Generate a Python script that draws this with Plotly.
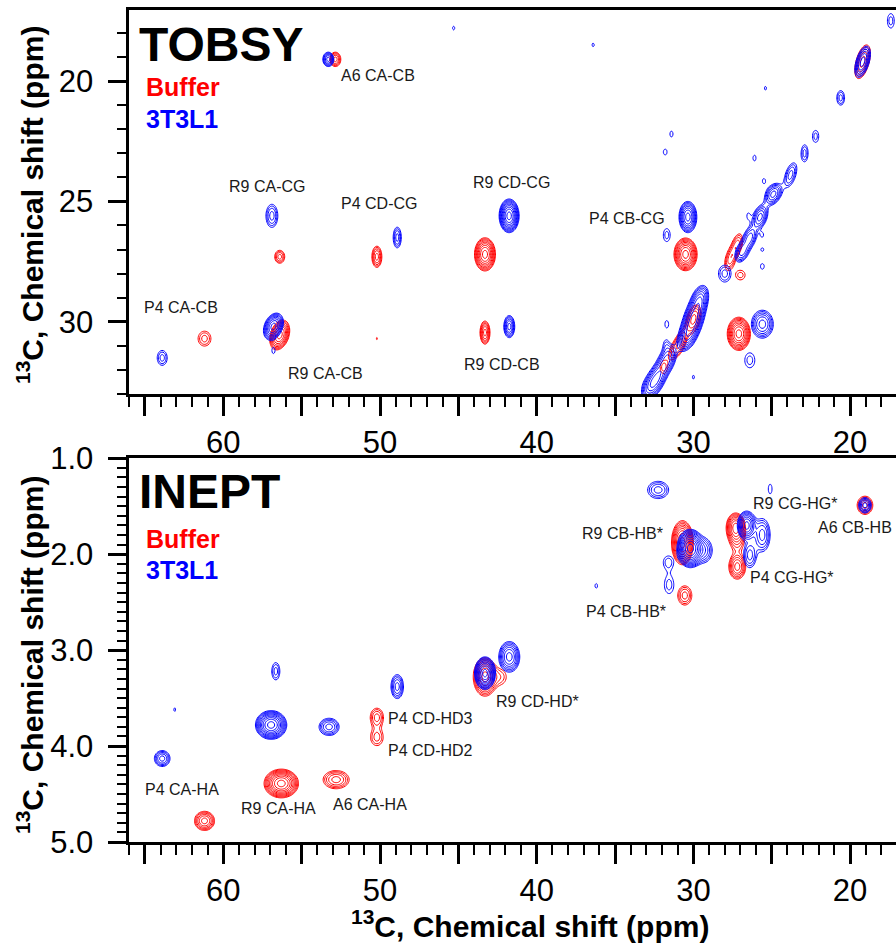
import numpy as np
import plotly.graph_objects as go

# ---------------- DATA (ppm) ----------------
# TOBSY, Buffer (red)
tob_buf_x = [52.85, 56.4, 56.4, 61.2, 50.2, 43.3, 43.3, 50.2, 30.5, 27.1, 19.2, 27.2, 27.65, 27.0, 30.0, 30.8, 31.2, 31.9]
tob_buf_y = [19.1, 27.3, 30.55, 30.7, 27.3, 27.2, 30.45, 30.7, 27.2, 30.5, 19.2, 26.8, 27.4, 28.06, 29.9, 30.8, 31.2, 31.9]
tob_buf_wx = [0.35, 0.32, 0.64, 0.41, 0.32, 0.67, 0.32, 0.05, 0.74, 0.74, 0.5, 0.35, 0.35, 0.3, 0.5, 0.35, 0.35, 0.22]
tob_buf_wy = [0.3, 0.27, 0.62, 0.31, 0.44, 0.69, 0.48, 0.05, 0.68, 0.69, 0.7, 0.45, 0.45, 0.2, 0.6, 0.4, 0.35, 0.25]
tob_buf_n = [5, 4, 8, 3, 5, 9, 6, 1, 9, 9, 5, 4, 4, 2, 5, 4, 3, 2]
tob_buf_rho = [0, 0, 0.3, 0, 0, 0, 0, 0, 0, 0, 0.5, 0.4, 0.4, 0, 0.4, 0.4, 0.4, 0]

# TOBSY, 3T3L1 (blue)
tob_cel_x = [53.3, 56.9, 56.8, 56.8, 63.9, 48.9, 41.76, 41.75, 30.35, 31.7, 25.6, 26.4,
             17.4, 19.2, 20.6, 22.2, 22.9, 23.8, 24.9, 25.75, 26.4, 26.9, 28.0,
             29.6, 30.0, 30.4, 31.7, 32.3, 32.75,
             45.3, 36.4, 31.4, 31.8, 26.1, 25.5, 25.4, 25.6, 25.6, 25.6, 26.5, 31.7, 31.75, 30.0]
tob_cel_y = [19.1, 25.6, 30.2, 31.2, 31.5, 26.5, 25.6, 30.2, 25.65, 26.4, 30.1, 31.6,
             17.5, 19.2, 20.7, 22.3, 23.0, 23.9, 24.7, 25.65, 26.5, 27.1, 28.0,
             29.1, 29.9, 30.6, 31.6, 32.3, 32.7,
             17.8, 18.5, 22.2, 22.95, 23.2, 24.15, 20.3, 26.4, 27.0, 27.7, 25.6, 30.1, 30.95, 32.3]
tob_cel_wx = [0.35, 0.38, 0.64, 0.1, 0.32, 0.26, 0.64, 0.35, 0.57, 0.22, 0.7, 0.32,
              0.22, 0.5, 0.25, 0.2, 0.22, 0.4, 0.55, 0.5, 0.45, 0.45, 0.4,
              0.55, 0.75, 0.6, 0.6, 0.6, 0.55,
              0.07, 0.07, 0.1, 0.12, 0.1, 0.1, 0.07, 0.07, 0.09, 0.12, 0.08, 0.12, 0.1, 0.07]
tob_cel_wy = [0.3, 0.48, 0.56, 0.12, 0.31, 0.43, 0.7, 0.46, 0.65, 0.27, 0.58, 0.31,
              0.3, 0.65, 0.3, 0.25, 0.35, 0.5, 0.45, 0.5, 0.45, 0.42, 0.35,
              0.6, 0.9, 0.6, 0.6, 0.6, 0.5,
              0.08, 0.08, 0.12, 0.12, 0.12, 0.1, 0.08, 0.07, 0.07, 0.12, 0.1, 0.15, 0.12, 0.08]
tob_cel_n = [6, 4, 8, 1, 3, 4, 10, 6, 8, 2, 6, 2,
             2, 6, 3, 2, 3, 4, 6, 6, 5, 5, 3,
             6, 8, 6, 6, 6, 5,
             1, 1, 1, 1, 1, 1, 1, 1, 1, 1, 1, 1, 1, 1]
tob_cel_rho = [0, 0, 0.3, 0, 0, 0, 0, 0, 0, 0, 0, 0,
               0, 0.5, 0, 0, 0, 0.5, 0.35, 0.35, 0.35, 0.35, 0,
               0.35, 0.45, 0.4, 0.4, 0.4, 0.35,
               0, 0, 0, 0, 0, 0, 0, 0, 0, 0, 0, 0, 0, 0]

# INEPT, Buffer (red)
inp_buf_x = [30.7, 30.55, 27.3, 27.2, 27.2, 19.05, 43.3, 42.3, 50.2, 50.2, 52.8, 56.3, 61.2]
inp_buf_y = [1.88, 2.43, 1.72, 1.86, 2.13, 1.49, 3.28, 3.28, 3.70, 3.91, 4.35, 4.39, 4.78]
inp_buf_wx = [0.7, 0.45, 0.6, 0.4, 0.54, 0.5, 0.75, 0.35, 0.42, 0.4, 0.83, 1.1, 0.64]
inp_buf_wy = [0.23, 0.1, 0.15, 0.1, 0.13, 0.095, 0.2, 0.07, 0.095, 0.085, 0.095, 0.15, 0.1]
inp_buf_n = [9, 4, 8, 3, 6, 5, 8, 2, 4, 3, 5, 10, 6]
inp_buf_rho = [0] * 13

# INEPT, 3T3L1 (blue)
inp_cel_x = [32.25, 25.1, 30.2, 29.3, 31.6, 31.55, 36.2, 26.6, 25.6, 26.4, 19.05, 43.3, 41.75, 48.9, 53.25, 56.65, 63.1, 56.95, 63.9]
inp_cel_y = [1.33, 1.32, 1.94, 1.96, 2.08, 2.32, 2.33, 1.70, 1.80, 2.01, 1.49, 3.24, 3.07, 3.38, 3.80, 3.22, 3.62, 3.78, 4.13]
inp_cel_wx = [0.67, 0.12, 0.85, 0.5, 0.3, 0.3, 0.08, 0.6, 0.5, 0.4, 0.4, 0.67, 0.67, 0.4, 0.64, 0.26, 0.06, 1.0, 0.5]
inp_cel_wy = [0.09, 0.05, 0.2, 0.12, 0.06, 0.09, 0.025, 0.15, 0.17, 0.13, 0.08, 0.17, 0.16, 0.125, 0.09, 0.09, 0.02, 0.15, 0.083]
inp_cel_n = [4, 1, 11, 4, 2, 2, 1, 8, 5, 4, 5, 10, 7, 5, 5, 3, 1, 10, 5]
inp_cel_rho = [0] * 19

# Peak labels
tob_lab_text = ["A6 CA-CB", "R9 CA-CG", "P4 CD-CG", "R9 CD-CG", "P4 CB-CG", "P4 CA-CB", "R9 CA-CB", "R9 CD-CB"]
tob_lab_x = [50.13, 57.21, 50.06, 41.58, 34.23, 62.70, 53.45, 42.21]
tob_lab_y = [19.75, 24.40, 25.07, 24.20, 25.73, 29.39, 32.13, 31.76]
inp_lab_text = ["R9 CB-HB*", "R9 CG-HG*", "A6 CB-HB", "P4 CG-HG*", "P4 CB-HB*", "R9 CD-HD*",
                "P4 CD-HD3", "P4 CD-HD2", "P4 CA-HA", "R9 CA-HA", "A6 CA-HA"]
inp_lab_x = [34.55, 23.52, 19.69, 23.71, 34.30, 39.92, 46.75, 46.75, 62.64, 56.51, 50.64]
inp_lab_y = [1.78, 1.47, 1.72, 2.24, 2.60, 3.54, 3.71, 4.05, 4.45, 4.65, 4.61]

x_major = [65, 60, 55, 50, 45, 40, 35, 30, 25, 20]
x_major_text = [" ", "60", " ", "50", " ", "40", " ", "30", " ", "20"]
tob_y_major = [20, 25, 30]
inp_y_major = [1.0, 2.0, 3.0, 4.0, 5.0]
inp_y_major_text = ["1.0", "2.0", "3.0", "4.0", "5.0"]

RED = "#FF0000"
BLUE = "#0000FF"
F = 1.3
NLEV = 13


def spectrum(xs, ys, px, py, wx, wy, n, rho):
    X, Y = np.meshgrid(xs, ys)
    Z = np.zeros_like(X)
    for xi, yi, wxi, wyi, ni, ri in zip(px, py, wx, wy, n, rho):
        A = F ** (ni - 0.5)
        k = np.sqrt(2 * np.log(A))
        sx, sy = wxi / k, wyi / k
        dx = (X - xi) / sx
        dy = (Y - yi) / sy
        q = (dx * dx - 2 * ri * dx * dy + dy * dy) / (1 - ri * ri)
        Z += A * np.exp(-0.5 * q)
    return np.log(Z + 1e-3).astype(np.float32)


xs = np.round(np.arange(14.5, 66.6, 0.07), 3)
ys_t = np.round(np.arange(16.8, 33.3, 0.06), 3)
ys_b = np.round(np.arange(0.9, 5.1, 0.012), 4)

fig = go.Figure()


def add(z, ys, color, xa, ya):
    fig.add_trace(go.Contour(
        x=xs, y=ys, z=z, xaxis=xa, yaxis=ya,
        contours=dict(start=0, end=np.log(F) * NLEV, size=np.log(F), coloring="none"),
        line=dict(color=color, width=1, smoothing=1),
        showscale=False, hoverinfo="skip"))


add(spectrum(xs, ys_t, tob_buf_x, tob_buf_y, tob_buf_wx, tob_buf_wy, tob_buf_n, tob_buf_rho), ys_t, RED, "x", "y")
add(spectrum(xs, ys_t, tob_cel_x, tob_cel_y, tob_cel_wx, tob_cel_wy, tob_cel_n, tob_cel_rho), ys_t, BLUE, "x", "y")
add(spectrum(xs, ys_b, inp_buf_x, inp_buf_y, inp_buf_wx, inp_buf_wy, inp_buf_n, inp_buf_rho), ys_b, RED, "x2", "y2")
add(spectrum(xs, ys_b, inp_cel_x, inp_cel_y, inp_cel_wx, inp_cel_wy, inp_cel_n, inp_cel_rho), ys_b, BLUE, "x2", "y2")

W, H = 896, 943
FONT = "Liberation Sans, Arial, sans-serif"

x_minor = [v for v in range(15, 67) if v % 5 != 0]
ax_common = dict(showline=True, linewidth=2.5, linecolor="black", ticks="outside", automargin=False,
                 tickwidth=2.5, tickcolor="black", ticklen=19, showgrid=False, zeroline=False,
                 tickfont=dict(size=31, color="black", family=FONT))

xa = dict(ax_common, tickmode="array", tickvals=x_major, ticktext=x_major_text, mirror=True,
          minor=dict(tickmode="array", tickvals=x_minor, ticks="outside", ticklen=10, tickwidth=2, tickcolor="black", showgrid=False),
          range=[66.0, 17.07], domain=[129.3 / W, 1.0])

fig.update_layout(
    width=W, height=H, margin=dict(l=0, r=0, t=0, b=0, autoexpand=False),
    paper_bgcolor="white", plot_bgcolor="white", showlegend=False,
    font=dict(family=FONT, color="black"),
    xaxis=dict(xa, anchor="y"),
    yaxis=dict(ax_common, anchor="x", range=[33.0, 17.05], domain=[1 - 394 / H, 1 - 10 / H],
               tickmode="array", tickvals=tob_y_major, ticktext=[str(v) for v in tob_y_major], ticklabelstandoff=8,
               minor=dict(tickmode="array", tickvals=[v for v in range(18, 34) if v % 5 != 0], ticks="outside",
                          ticklen=10, tickwidth=2, tickcolor="black", showgrid=False)),
    xaxis2=dict(xa, anchor="y2"),
    yaxis2=dict(ax_common, anchor="x2", range=[5.0, 1.0], domain=[1 - 842 / H, 1 - 458.3 / H],
                tickmode="array", tickvals=inp_y_major, ticktext=inp_y_major_text, ticklabelstandoff=8,
                minor=dict(tickmode="array", tickvals=[round(1 + 0.1 * i, 1) for i in range(41) if i % 10 != 0],
                           ticks="outside", ticklen=10, tickwidth=2, tickcolor="black", showgrid=False)),
)

ann = []
for t, x, y in zip(tob_lab_text, tob_lab_x, tob_lab_y):
    ann.append(dict(text=t, x=x, y=y, xref="x", yref="y", showarrow=False,
                    font=dict(size=16, color="#1a1a1a", family=FONT)))
for t, x, y in zip(inp_lab_text, inp_lab_x, inp_lab_y):
    ann.append(dict(text=t, x=x, y=y, xref="x2", yref="y2", showarrow=False,
                    font=dict(size=16, color="#1a1a1a", family=FONT)))


def panel_text(text, px, py, size, color):
    ann.append(dict(text=f"<b>{text}</b>", x=px / W, y=1 - py / H, xref="paper", yref="paper",
                    xanchor="left", yanchor="middle", showarrow=False,
                    font=dict(size=size, color=color, family=FONT)))


panel_text("TOBSY", 137, 44, 48, "black")
panel_text("Buffer", 144, 87, 25, RED)
panel_text("3T3L1", 144, 119, 25, BLUE)
panel_text("INEPT", 137, 491, 48, "black")
panel_text("Buffer", 144, 539, 25, RED)
panel_text("3T3L1", 144, 570, 25, BLUE)

title = "<b><sup>13</sup>C, Chemical shift (ppm)</b>"
ann.append(dict(text=title, x=530 / W, y=1 - 924 / H, xref="paper", yref="paper", showarrow=False,
                xanchor="center", yanchor="middle", font=dict(size=30, color="black", family=FONT)))
ann.append(dict(text=title, x=30 / W, y=1 - 205 / H, xref="paper", yref="paper", showarrow=False,
                textangle=-90, xanchor="center", yanchor="middle", font=dict(size=30, color="black", family=FONT)))
ann.append(dict(text=title, x=30 / W, y=1 - 655 / H, xref="paper", yref="paper", showarrow=False,
                textangle=-90, xanchor="center", yanchor="middle", font=dict(size=30, color="black", family=FONT)))

fig.update_layout(annotations=ann)
fig.write_html("out.html")
